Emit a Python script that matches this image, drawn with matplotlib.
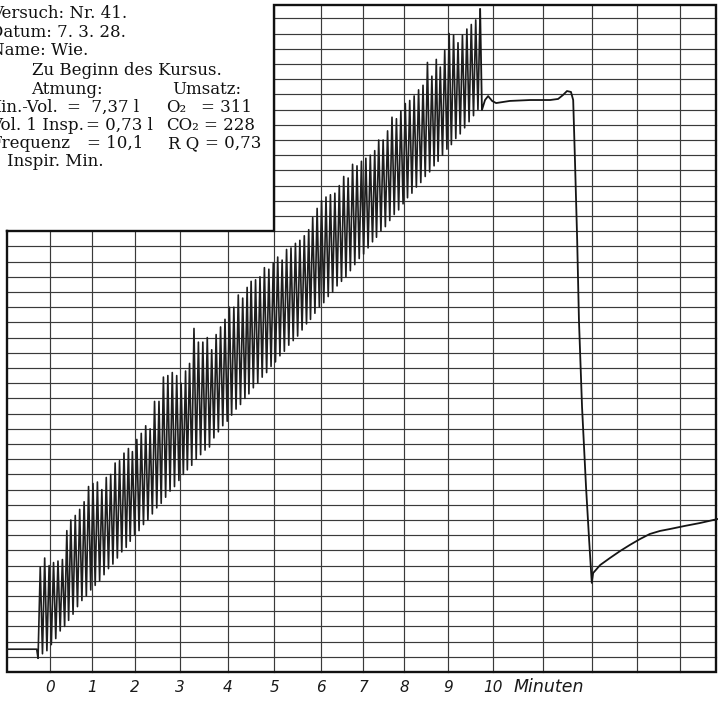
import matplotlib.pyplot as plt

# ruled chart paper: minute marks (x) and volume rows (y, one unit per ruled line)
grid_minutes = [0, 0.95, 1.92, 2.94, 4.02, 5.06, 6.12, 7.07, 7.99, 8.98,
                10.0, 11.13, 12.24, 13.25, 14.22]
minute_labels = ['0', '1', '2', '3', '4', '5', '6', '7', '8', '9', '10']
n_rows = 43
paper_left, paper_right = -0.97, 15.03
paper_top = 43.88
box_bottom = 29      # lower edge of the protocol box
box_right = 5.06

# resting level before the first breath
rest_t = [-0.97, -0.30]
rest_v = [1.5, 1.5]

# one entry per breath: end of expiration (trough) and top of inspiration (peak)
trough_t = [-0.27, -0.17, -0.07, 0.03, 0.13, 0.23, 0.33, 0.42, 0.52, 0.62,
            0.72, 0.82, 0.92, 1.02, 1.12, 1.22, 1.32, 1.42, 1.52, 1.62,
            1.72, 1.81, 1.91, 2.01, 2.11, 2.21, 2.31, 2.41, 2.51, 2.61,
            2.71, 2.81, 2.91, 3.01, 3.10, 3.20, 3.30, 3.40, 3.50, 3.60,
            3.70, 3.80, 3.90, 4.00, 4.10, 4.20, 4.30, 4.40, 4.49, 4.59,
            4.69, 4.79, 4.89, 4.99, 5.09, 5.19, 5.29, 5.39, 5.49, 5.59,
            5.69, 5.79, 5.88, 5.98, 6.08, 6.18, 6.28, 6.38, 6.48, 6.58,
            6.68, 6.78, 6.88, 6.98, 7.08, 7.18, 7.28, 7.37, 7.47, 7.57,
            7.67, 7.77, 7.87, 7.97, 8.07, 8.17, 8.27, 8.37, 8.47, 8.57,
            8.67, 8.76, 8.86, 8.96, 9.06, 9.16, 9.26, 9.36, 9.46, 9.56,
            9.66]
trough_v = [0.9, 1.2, 1.4, 1.8, 2.2, 2.7, 3.0, 3.4, 3.8, 4.3,
            4.7, 5.0, 5.4, 5.7, 6.0, 6.4, 6.8, 7.1, 7.5, 7.9,
            8.2, 8.6, 9.0, 9.3, 9.7, 10.0, 10.4, 10.8, 11.1, 11.5,
            11.9, 12.2, 12.6, 13.0, 13.3, 13.6, 14.0, 14.3, 14.6, 14.8,
            15.4, 15.8, 16.2, 16.5, 16.9, 17.3, 17.6, 18.0, 18.3, 18.7,
            19.0, 19.4, 19.7, 20.1, 20.4, 20.8, 21.1, 21.5, 21.8, 22.1,
            22.5, 22.9, 23.2, 23.6, 24.0, 24.3, 24.7, 25.0, 25.4, 25.7,
            26.0, 26.4, 26.8, 27.2, 27.5, 27.9, 28.3, 28.6, 29.0, 29.3,
            29.7, 30.1, 30.4, 30.8, 31.2, 31.5, 31.9, 32.2, 32.6, 32.9,
            33.3, 33.6, 34.0, 34.4, 34.7, 35.1, 35.4, 35.8, 36.2, 36.6,
            37.0]
peak_t = [-0.22, -0.12, -0.02, 0.08, 0.18, 0.28, 0.38, 0.47, 0.57, 0.67,
          0.77, 0.87, 0.97, 1.07, 1.17, 1.27, 1.37, 1.47, 1.57, 1.67,
          1.77, 1.86, 1.96, 2.06, 2.16, 2.26, 2.36, 2.46, 2.56, 2.66,
          2.76, 2.86, 2.96, 3.06, 3.15, 3.25, 3.35, 3.45, 3.55, 3.65,
          3.75, 3.85, 3.95, 4.05, 4.15, 4.25, 4.35, 4.45, 4.54, 4.64,
          4.74, 4.84, 4.94, 5.04, 5.14, 5.24, 5.34, 5.44, 5.54, 5.64,
          5.74, 5.84, 5.93, 6.03, 6.13, 6.23, 6.33, 6.43, 6.53, 6.63,
          6.73, 6.83, 6.93, 7.03, 7.13, 7.23, 7.33, 7.42, 7.52, 7.62,
          7.72, 7.82, 7.92, 8.02, 8.12, 8.22, 8.32, 8.42, 8.52, 8.62,
          8.72, 8.81, 8.91, 9.01, 9.11, 9.21, 9.31, 9.41, 9.51, 9.61,
          9.71]
peak_v = [6.9, 7.5, 7.0, 7.2, 7.3, 7.4, 9.3, 10.0, 10.3, 10.7,
          11.2, 12.2, 12.4, 12.5, 12.0, 12.8, 13.0, 13.75, 13.9, 14.4,
          14.7, 14.5, 15.3, 15.7, 16.2, 16.0, 17.8, 17.8, 19.4, 19.5,
          19.7, 19.5, 19.0, 19.8, 20.3, 22.6, 21.7, 21.7, 22.0, 21.2,
          22.2, 22.7, 23.2, 24.0, 24.0, 24.8, 24.6, 25.3, 25.7, 25.8,
          26.0, 26.6, 26.5, 26.9, 27.3, 27.1, 27.8, 27.9, 28.2, 28.4,
          28.7, 29.1, 29.9, 30.5, 31.0, 31.25, 31.4, 31.5, 32.0, 32.6,
          32.5, 33.4, 33.3, 33.6, 33.8, 34.0, 34.3, 35.0, 35.0, 35.6,
          36.5, 36.4, 36.9, 37.4, 37.6, 37.9, 38.3, 38.6, 40.1, 39.2,
          40.3, 39.8, 40.9, 42.0, 41.9, 41.4, 41.9, 42.3, 42.6, 42.9,
          43.6]

# after the last breath: plateau, sudden fall and slow recovery
tail_t = [9.75, 9.82, 9.89, 9.98, 10.07, 10.38, 10.84, 11.29, 11.47, 11.58,
          11.67, 11.76, 11.81, 11.85, 11.90, 11.94, 12.01, 12.10, 12.17, 12.23,
          12.26, 12.42, 12.64, 12.87, 13.09, 13.32, 13.54, 13.77, 14.00, 14.33,
          14.67, 15.08]
tail_v = [36.97, 37.63, 37.89, 37.57, 37.43, 37.57, 37.63, 37.63, 37.70, 37.96,
          38.22, 38.16, 37.63, 33.68, 28.42, 23.16, 17.43, 12.17, 8.68, 5.86,
          6.51, 7.04, 7.50, 7.96, 8.36, 8.75, 9.08, 9.28, 9.41, 9.61,
          9.80, 10.07]

W, H = 718, 701
fig = plt.figure(figsize=(W / 100, H / 100), dpi=100)
ax = fig.add_axes([0, 0, 1, 1])
ax.set_xlim(-1.1287, 15.079)
ax.set_ylim(-1.908, 44.21)
ax.axis('off')

grid_kw = dict(color='#3a3a3a', linewidth=0.85, zorder=1)
for k in range(1, n_rows + 1):
    left = paper_left if k < box_bottom else box_right
    ax.plot([left, paper_right], [k, k], **grid_kw)
for gx in grid_minutes:
    top = box_bottom if gx < box_right else paper_top
    ax.plot([gx, gx], [0, top], **grid_kw)

# heavy outline of the paper with the cut-out for the protocol box
ax.plot([paper_left, box_right, box_right, paper_right, paper_right, paper_left, paper_left],
        [box_bottom, box_bottom, paper_top, paper_top, 0, 0, box_bottom],
        color='#111111', linewidth=1.7, solid_joinstyle='miter', zorder=2)

trace_t, trace_v = list(rest_t), list(rest_v)
for tt, tv, pt, pv in zip(trough_t, trough_v, peak_t, peak_v):
    trace_t += [tt, pt]
    trace_v += [tv, pv]
ax.plot(trace_t, trace_v, color='#1e1e1e', linewidth=1.2, zorder=3)
ax.plot([peak_t[-1]] + tail_t, [peak_v[-1]] + tail_v, color='#151515',
        linewidth=1.3, solid_joinstyle='round', zorder=3)

# minute scale
for gx, lab in zip(grid_minutes, minute_labels):
    ax.text(gx, -1.0, lab, ha='center', va='center', fontsize=11,
            fontstyle='italic', family='DejaVu Sans', color='#1a1a1a')
fig.text(514 / W, 1 - 687 / H, 'Minuten', ha='left', va='center', fontsize=12.5,
         fontstyle='italic', family='DejaVu Sans', color='#1a1a1a')

# protocol box
def note(x, y, s):
    fig.text(x / W, 1 - y / H, s, ha='left', va='baseline', fontsize=12,
             family='DejaVu Serif', color='#111111')

note(-9, 18, 'Versuch: Nr. 41.')
note(-10, 37, 'Datum: 7. 3. 28.')
note(-10, 55, 'Name: Wie.')
note(32, 75, 'Zu Beginn des Kursus.')
note(31, 94, 'Atmung:')
note(172, 94, 'Umsatz:')
note(-16, 112, 'Min.-Vol.')
note(67, 112, '=  7,37 l')
note(166, 112, 'O₂')
note(201, 112, '= 311')
note(-10, 130, 'Vol. 1 Insp.')
note(86, 130, '= 0,73 l')
note(166, 130, 'CO₂')
note(204, 130, '= 228')
note(-10, 148, 'Frequenz')
note(87, 148, '= 10,1')
note(168, 148, 'R Q')
note(205, 148, '= 0,73')
note(7, 166, 'Inspir. Min.')

fig.savefig('out.png', dpi=100)
